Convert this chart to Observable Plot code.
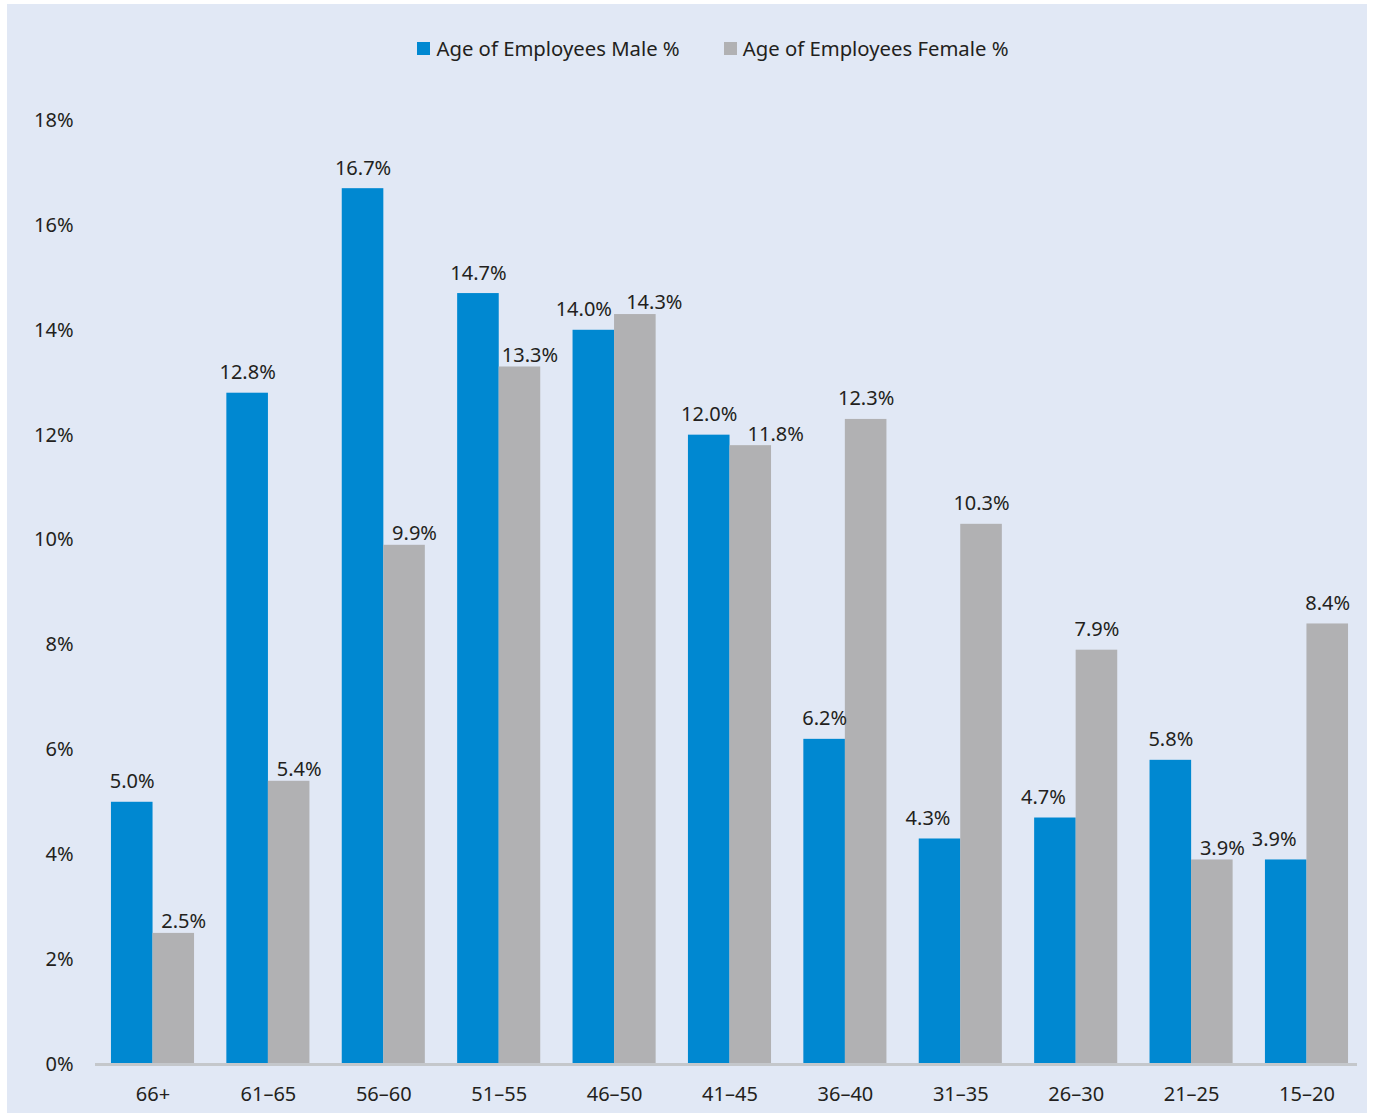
<!DOCTYPE html>
<html>
<head>
<meta charset="utf-8">
<script src="https://cdn.jsdelivr.net/npm/d3@7"></script>
<script src="https://cdn.jsdelivr.net/npm/@observablehq/plot@0.6"></script>
<style>
  html, body { margin: 0; padding: 0; background: #ffffff; }
  #wrap { position: relative; width: 1373px; height: 1113px; font-family: "Noto Sans", sans-serif; }
  #panel { position: absolute; left: 7px; top: 4px; width: 1360px; height: 1109px; background: #e1e8f5; }
  #legend { position: absolute; top: 34px; left: 0; width: 1373px; display: flex; justify-content: center; gap: 44px; font-size: 20.3px; color: #231f20; padding-left: 53px; box-sizing: border-box; }
  .item { display: flex; align-items: center; gap: 6px; }
  .sw { width: 13px; height: 13px; display: inline-block; }
  #chart { position: absolute; left: 0; top: 0; }
</style>
</head>
<body>
<div id="wrap">
  <div id="panel"></div>
  <div id="legend"></div>
  <div id="chart"></div>
</div>
<script>
const groups = ["66+", "61–65", "56–60", "51–55", "46–50", "41–45", "36–40", "31–35", "26–30", "21–25", "15–20"];
const male = [5.0, 12.8, 16.7, 14.7, 14.0, 12.0, 6.2, 4.3, 4.7, 5.8, 3.9];
const female = [2.5, 5.4, 9.9, 13.3, 14.3, 11.8, 12.3, 10.3, 7.9, 3.9, 8.4];
const seriesNames = ["Age of Employees Male %", "Age of Employees Female %"];
const seriesColors = ["#0088d1", "#b1b1b3"];
const yTicks = [0, 2, 4, 6, 8, 10, 12, 14, 16, 18];

const maleData = groups.map((g, i) => ({group: g, value: male[i], other: female[i]}));
const femaleData = groups.map((g, i) => ({group: g, value: female[i], other: male[i]}));

const legend = document.getElementById("legend");
seriesNames.forEach((n, i) => {
  const it = document.createElement("div");
  it.className = "item";
  it.innerHTML = `<span class="sw" style="background:${seriesColors[i]}"></span><span>${n}</span>`;
  legend.appendChild(it);
});

const half = 41.5;
const fmt = d => d.value.toFixed(1) + "%";

// Nudge a label away from the neighbouring bar's label (returns [dx, dy]).
function nudge(d, isFemale) {
  const diff = d.value - d.other;
  if (isFemale) {
    if (Math.abs(diff) < 0.5) return diff < 0 ? [25, 9] : [19, 8];
    if (diff < 0) return [10, 9];
    return [0, 0];
  } else {
    if (diff < 0 && -diff < 0.5) return [-10, 0];
    if (diff < 0 && d.value < 5) return [-12, 0];
    return [0, 0];
  }
}

const chart = Plot.plot({
  width: 1373,
  height: 1113,
  marginLeft: 95,
  marginRight: 16,
  marginTop: 120,
  marginBottom: 49,
  style: {background: "transparent", fontFamily: "Noto Sans, sans-serif", fontSize: "20px", color: "#231f20"},
  x: {domain: groups, paddingInner: 0.28, paddingOuter: 0.108, align: 0.64, round: false, label: null, tickSize: 0, tickPadding: 22},
  y: {domain: [0, 18], ticks: yTicks, tickFormat: d => d + "%", label: null, tickSize: 0, tickPadding: 22},
  marks: [
    Plot.barY(maleData, {x: "group", y: "value", fill: seriesColors[0], insetRight: half}),
    Plot.barY(femaleData, {x: "group", y: "value", fill: seriesColors[1], insetLeft: half}),
    Plot.ruleY([0], {stroke: "#c4c7cb", strokeWidth: 3}),
    Plot.text(maleData, {x: "group", y: "value", text: fmt, dy: -14, lineAnchor: "bottom", fill: "#231f20"}),
    Plot.text(femaleData, {x: "group", y: "value", text: fmt, dy: -14, lineAnchor: "bottom", fill: "#231f20"})
  ]
});

// per-label horizontal offsets: bar centre within the group + anti-collision nudge
const texts = chart.querySelectorAll("g[aria-label='text']");
[[texts[0], maleData, false], [texts[1], femaleData, true]].forEach(([g, data, isFemale]) => {
  if (!g) return;
  g.querySelectorAll("text").forEach((t, i) => {
    const [nx, ny] = nudge(data[i], isFemale);
    const dx = (isFemale ? 1 : -1) * half / 2 + nx;
    const tr = t.getAttribute("transform") || "";
    t.setAttribute("transform", tr + ` translate(${dx},${ny})`);
  });
});
document.getElementById("chart").appendChild(chart);
</script>
</body>
</html>
